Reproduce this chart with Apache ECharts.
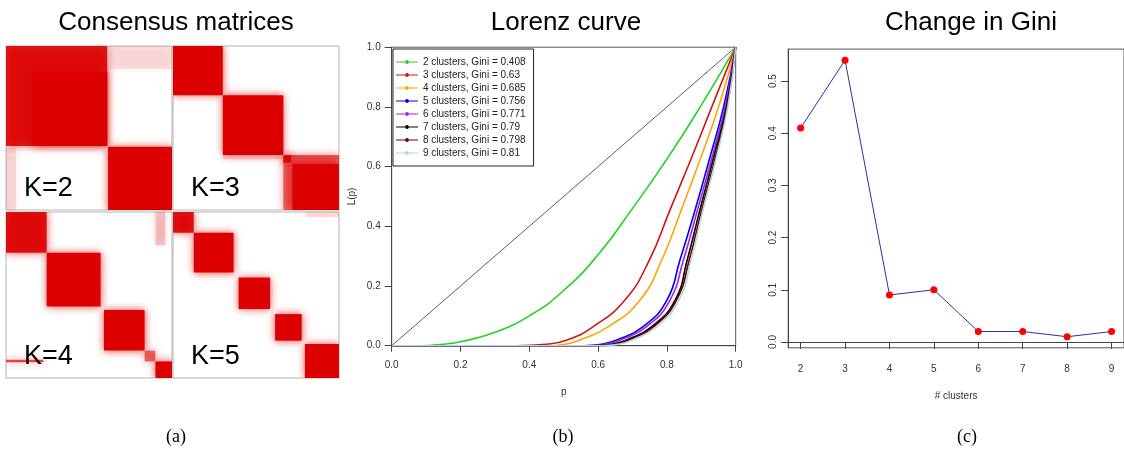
<!DOCTYPE html>
<html>
<head>
<meta charset="utf-8">
<script src="https://cdn.jsdelivr.net/npm/echarts@6/dist/echarts.min.js"></script>
<style>
  html, body { margin: 0; padding: 0; background: #fff; }
  #chart { width: 1124px; height: 449px; }
</style>
</head>
<body>
<div id="chart"></div>
<script>
// consensus blocks: [start, end, level] along the sample order
const k2Blocks = [[0, 0.61, 0.88], [0.16, 0.61, 1], [0.615, 1, 1]];
const k3Blocks = [[0, 0.3, 1], [0.3, 0.665, 1], [0.665, 1, 0.55], [0.665, 0.71, 0.9], [0.72, 1, 1]];
const k4Blocks = [[0, 0.245, 0.9], [0.245, 0.57, 1], [0.59, 0.835, 1], [0.835, 0.9, 0.55], [0.9, 1, 1]];
const k5Blocks = [[0, 0.125, 0.9], [0.125, 0.365, 1], [0.395, 0.585, 1], [0.615, 0.775, 1], [0.795, 1, 1]];
// off-diagonal patches: [x0, x1, y0, y1, level]
const k2Patches = [[0.62, 1, 0, 0.14, 0.1], [0, 0.06, 0.62, 1, 0.12]];
const k3Patches = [[0.3, 1, 0.665, 0.69, 0.12]];
const k4Patches = [[0, 0.225, 0.89, 0.905, 0.7], [0.9, 0.96, 0, 0.2, 0.2]];
const k5Patches = [[0.8, 1, 0, 0.03, 0.12]];

const clusterCounts = [2, 3, 4, 5, 6, 7, 8, 9];
const lorenzGini = [0.408, 0.63, 0.685, 0.756, 0.771, 0.79, 0.798, 0.81];
const lorenz2 = [[0, 0], [0.08, 0], [0.15, 0.005], [0.2, 0.013], [0.3, 0.045], [0.4, 0.1], [0.5, 0.185], [0.6, 0.305], [0.7, 0.46], [0.8, 0.625], [0.9, 0.806], [1, 1]];
const lorenz3 = [[0, 0], [0.36, 0], [0.45, 0.005], [0.51, 0.019], [0.586, 0.064], [0.678, 0.153], [0.749, 0.287], [0.809, 0.455], [0.869, 0.622], [0.934, 0.81], [1, 1]];
const lorenz4 = [[0, 0], [0.45, 0], [0.5, 0.004], [0.547, 0.019], [0.63, 0.064], [0.722, 0.153], [0.785, 0.287], [0.842, 0.455], [0.896, 0.622], [0.952, 0.806], [1, 1]];
const lorenz5 = [[0, 0], [0.56, 0], [0.61, 0.005], [0.654, 0.019], [0.731, 0.064], [0.8, 0.153], [0.838, 0.287], [0.882, 0.455], [0.923, 0.622], [0.966, 0.806], [1, 1]];
const lorenz6 = [[0, 0], [0.57, 0], [0.62, 0.005], [0.664, 0.019], [0.741, 0.064], [0.809, 0.153], [0.848, 0.287], [0.889, 0.455], [0.929, 0.622], [0.97, 0.806], [1, 1]];
const lorenz7 = [[0, 0], [0.59, 0], [0.64, 0.005], [0.683, 0.019], [0.756, 0.064], [0.824, 0.153], [0.859, 0.287], [0.896, 0.455], [0.934, 0.622], [0.974, 0.806], [1, 1]];
const lorenz8 = [[0, 0], [0.6, 0], [0.65, 0.005], [0.69, 0.019], [0.762, 0.064], [0.828, 0.153], [0.865, 0.287], [0.901, 0.455], [0.939, 0.622], [0.976, 0.806], [1, 1]];
const lorenz9 = [[0, 0], [0.61, 0], [0.66, 0.005], [0.7, 0.019], [0.77, 0.064], [0.835, 0.153], [0.87, 0.287], [0.905, 0.455], [0.942, 0.622], [0.978, 0.806], [1, 1]];
const equalityLine = [[0, 0], [1, 1]];

const giniChange = [0.41, 0.54, 0.09, 0.1, 0.02, 0.02, 0.01, 0.02];
const giniTicks = [0, 0.1, 0.2, 0.3, 0.4, 0.5];

const RED = "#dc0000";
const lorenzCurves = [lorenz2, lorenz3, lorenz4, lorenz5, lorenz6, lorenz7, lorenz8, lorenz9];
const lorenzColors = ["#22d322", "#d01414", "#ffa500", "#0000f0", "#a020f0", "#000000", "#6e0000", "#add8e6"];
const FONT = "'Liberation Sans', Arial, sans-serif";
const SERIF = "'Liberation Serif', 'Times New Roman', serif";
const AXIS_TEXT = { color: "#333", fontSize: 10, fontFamily: FONT };
// legend key: short line with a dot in the middle
const LEGEND_ICON = "path://M0,4 L22,4 L22,5.2 L0,5.2 Z M12.9,4.6 A1.9,1.9 0 1 1 9.1,4.6 A1.9,1.9 0 1 1 12.9,4.6 Z";

const chart = echarts.init(document.getElementById("chart"), null, { renderer: "canvas" });

function blockRows(blocks, patches) {
  return blocks.map(([s, e, v]) => [s, e, s, e, v]).concat(patches);
}

function renderBlock(params, api) {
  const a = api.coord([api.value(0), api.value(2)]);
  const b = api.coord([api.value(1), api.value(3)]);
  return {
    type: "rect",
    shape: { x: a[0], y: a[1], width: b[0] - a[0], height: b[1] - a[1] },
    style: { fill: RED, opacity: api.value(4), shadowBlur: 8, shadowColor: "rgba(220,0,0,0.75)" },
  };
}

const panels = [
  { blocks: k2Blocks, patches: k2Patches, label: "K=2", left: 6, top: 46, width: 166, height: 164 },
  { blocks: k3Blocks, patches: k3Patches, label: "K=3", left: 173, top: 46, width: 166, height: 164 },
  { blocks: k4Blocks, patches: k4Patches, label: "K=4", left: 6, top: 212, width: 166, height: 166 },
  { blocks: k5Blocks, patches: k5Patches, label: "K=5", left: 173, top: 212, width: 166, height: 166 },
];

const grids = panels.map((p) => ({
  left: p.left, top: p.top, width: p.width, height: p.height,
  show: true, borderColor: "#b4b4b4", borderWidth: 1, backgroundColor: "#fff",
}));
grids.push({ left: 391.7, top: 47.2, width: 344, height: 298.5, show: true, borderColor: "#555", borderWidth: 1 });
grids.push({ left: 788.2, top: 49.1, width: 345.5, height: 298.7, show: true, borderColor: "#555", borderWidth: 1 });

const xAxes = panels.map((p, i) => ({ gridIndex: i, type: "value", min: 0, max: 1, show: false }));
const yAxes = panels.map((p, i) => ({ gridIndex: i, type: "value", min: 0, max: 1, inverse: true, show: false }));

xAxes.push({
  gridIndex: 4, type: "value", min: 0, max: 1, interval: 0.2,
  name: "p", nameLocation: "middle", nameGap: 42, nameTextStyle: AXIS_TEXT,
  axisLine: { lineStyle: { color: "#444" } },
  axisTick: { length: 6, lineStyle: { color: "#444" } },
  axisLabel: { ...AXIS_TEXT, margin: 15, formatter: (v) => v.toFixed(1) },
  splitLine: { show: false },
});
yAxes.push({
  gridIndex: 4, type: "value", min: 0, max: 1, interval: 0.2,
  name: "L(p)", nameLocation: "middle", nameGap: 34, nameTextStyle: AXIS_TEXT,
  axisLine: { lineStyle: { color: "#444" } },
  axisTick: { length: 7, lineStyle: { color: "#444" } },
  axisLabel: { ...AXIS_TEXT, margin: 11, formatter: (v) => v.toFixed(1) },
  splitLine: { show: false },
});
xAxes.push({
  gridIndex: 5, type: "value", min: 1.72, max: 9.28,
  name: "# clusters", nameLocation: "middle", nameGap: 43, nameTextStyle: AXIS_TEXT,
  axisLine: { lineStyle: { color: "#444" } },
  axisTick: { length: 7, lineStyle: { color: "#444" }, customValues: clusterCounts },
  axisLabel: { ...AXIS_TEXT, margin: 16, customValues: clusterCounts },
  splitLine: { show: false },
});
yAxes.push({
  gridIndex: 5, type: "value", min: -0.0112, max: 0.5612,
  axisLine: { lineStyle: { color: "#444" } },
  axisTick: { length: 7, lineStyle: { color: "#444" }, customValues: giniTicks },
  axisLabel: { ...AXIS_TEXT, margin: 10, rotate: 90, customValues: giniTicks, formatter: (v) => v.toFixed(1) },
  splitLine: { show: false },
});

const series = panels.map((p, i) => ({
  type: "custom",
  xAxisIndex: i, yAxisIndex: i,
  clip: true, silent: true,
  renderItem: renderBlock,
  data: blockRows(p.blocks, p.patches),
}));

series.push({
  name: "equality", type: "line", xAxisIndex: 4, yAxisIndex: 4,
  data: equalityLine, symbol: "none", silent: true,
  lineStyle: { color: "#333", width: 0.8 },
});

const legendNames = clusterCounts.map((k, i) => `${k} clusters, Gini = ${lorenzGini[i]}`);
lorenzCurves.forEach((curve, i) => {
  series.push({
    name: legendNames[i], type: "line", xAxisIndex: 4, yAxisIndex: 4,
    data: curve, smooth: 0.5, symbol: "none",
    color: lorenzColors[i],
    lineStyle: { color: lorenzColors[i], width: 1.6 },
  });
});

series.push({
  type: "line", xAxisIndex: 5, yAxisIndex: 5,
  data: clusterCounts.map((k, i) => [k, giniChange[i]]),
  symbol: "circle", symbolSize: 7,
  lineStyle: { color: "#2e2ea8", width: 1 },
  itemStyle: { color: "#ff0000" },
});

function label(text, x, y, size, family) {
  return {
    type: "text", x, y, silent: true,
    style: { text, fontSize: size, fontFamily: family || FONT, fill: "#000", align: "center", verticalAlign: "middle" },
  };
}

const graphics = [
  label("Consensus matrices", 176, 23, 26),
  label("Lorenz curve", 566, 23, 26),
  label("Change in Gini", 971, 23, 26),
  label("(a)", 176, 437, 18, SERIF),
  label("(b)", 563, 437, 18, SERIF),
  label("(c)", 967, 437, 18, SERIF),
];
panels.forEach((p) => {
  graphics.push({
    type: "text", x: p.left + 18, y: p.top + p.height - 21, silent: true, z: 100,
    style: { text: p.label, fontSize: 27, fontFamily: FONT, fill: "#000", verticalAlign: "middle" },
  });
});

chart.setOption({
  animation: false,
  backgroundColor: "#fff",
  grid: grids,
  xAxis: xAxes,
  yAxis: yAxes,
  legend: {
    data: legendNames.map((name) => ({ name, icon: LEGEND_ICON })),
    orient: "vertical",
    left: 393, top: 49,
    padding: [8, 8, 8, 3],
    borderColor: "#222", borderWidth: 1,
    itemWidth: 22, itemHeight: 9, itemGap: 3,
    textStyle: { color: "#222", fontSize: 10, fontFamily: FONT },
    selectedMode: false,
  },
  graphic: graphics,
  series,
});
</script>
</body>
</html>
